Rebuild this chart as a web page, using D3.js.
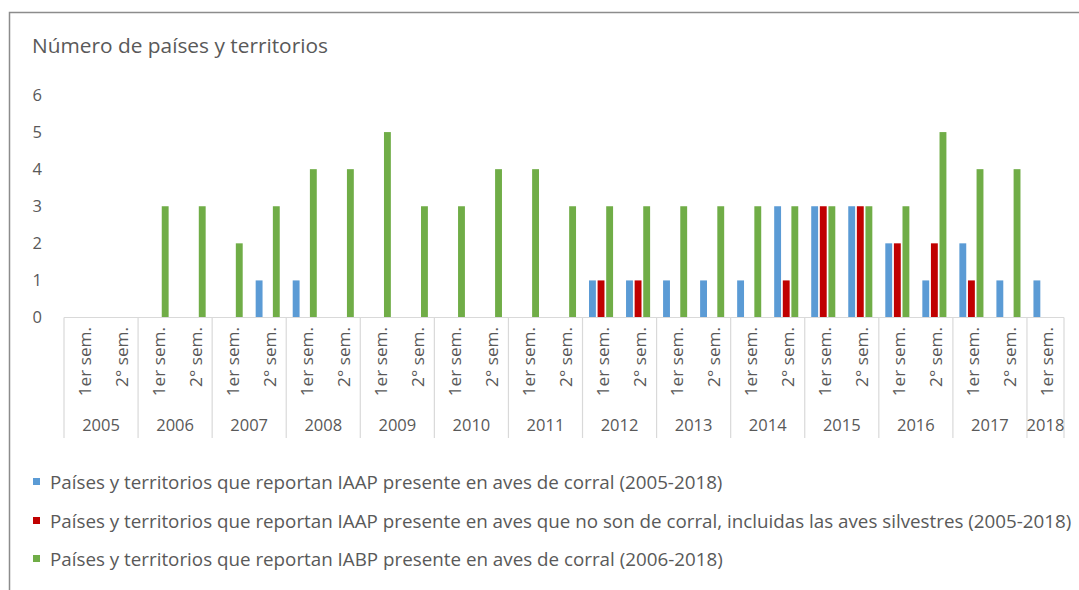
<!DOCTYPE html>
<html>
<head>
<meta charset="utf-8">
<script src="https://cdn.jsdelivr.net/npm/d3@7"></script>
<style>
  html, body { margin: 0; padding: 0; background: #fff; overflow: hidden; }
  svg text { font-family: "Open Sans", Lato, sans-serif; fill: #595959; }
</style>
</head>
<body>
<svg id="chart" width="1079" height="590"></svg>
<script>
'use strict';

// 期間 (年・半期)
const categoryYear = ['2005', '2005', '2006', '2006', '2007', '2007', '2008', '2008', '2009', '2009',
    '2010', '2010', '2011', '2011', '2012', '2012', '2013', '2013', '2014', '2014',
    '2015', '2015', '2016', '2016', '2017', '2017', '2018'];
const categorySem = ['1er sem.', '2° sem.', '1er sem.', '2° sem.', '1er sem.', '2° sem.', '1er sem.', '2° sem.',
    '1er sem.', '2° sem.', '1er sem.', '2° sem.', '1er sem.', '2° sem.', '1er sem.', '2° sem.',
    '1er sem.', '2° sem.', '1er sem.', '2° sem.', '1er sem.', '2° sem.', '1er sem.', '2° sem.',
    '1er sem.', '2° sem.', '1er sem.'];

// 系列の値
const iaapPoultry = [0, 0, 0, 0, 0, 1, 1, 0, 0, 0, 0, 0, 0, 0, 1, 1, 1, 1, 1, 3, 3, 3, 2, 1, 2, 1, 1];
const iaapWild = [0, 0, 0, 0, 0, 0, 0, 0, 0, 0, 0, 0, 0, 0, 1, 1, 0, 0, 0, 1, 3, 3, 2, 2, 1, 0, 0];
const iabpPoultry = [0, 0, 3, 3, 2, 3, 4, 4, 5, 3, 3, 4, 4, 3, 3, 3, 3, 3, 3, 3, 3, 3, 3, 5, 4, 4, 0];

const seriesNames = [
    'Países y territorios que reportan IAAP presente en aves de corral (2005-2018)',
    'Países y territorios que reportan IAAP presente en aves que no son de corral, incluidas las aves silvestres (2005-2018)',
    'Países y territorios que reportan IABP presente en aves de corral (2006-2018)'
];
const seriesColors = ['#5b9bd5', '#c00000', '#70ad47'];
const yTicks = [0, 1, 2, 3, 4, 5, 6];

const plot = { left: 64, right: 1064, top: 95, bottom: 317.5 };

const svg = d3.select('#chart');

// テキスト幅を目標値に合わせてフォントサイズを決める
const fitFont = (sel, base, target) => {
    sel.attr('font-size', base + 'px');
    const w = sel.node().getComputedTextLength();
    sel.attr('font-size', (base * target / w).toFixed(2) + 'px');
};

// 外枠
svg.append('rect')
    .attr('x', 9.5).attr('y', 12.5)
    .attr('width', 1100).attr('height', 600)
    .attr('fill', 'none')
    .attr('stroke', '#8c8c8c')
    .attr('stroke-width', 1.5);

// タイトル
const title = svg.append('text')
    .attr('x', 32).attr('y', 53)
    .text('Número de países y territorios');
fitFont(title, 20, 296);

// スケール
const idx = d3.range(categoryYear.length);
const x0 = d3.scaleBand()
    .domain(idx)
    .range([plot.left, plot.right])
    .paddingInner(0.35)
    .paddingOuter(0.175);
const x1 = d3.scaleBand()
    .domain([0, 1, 2])
    .range([0, x0.bandwidth()])
    .paddingInner(0.2);
const y = d3.scaleLinear().domain([0, 6]).range([plot.bottom, plot.top]);

// Y軸 (線なし、ラベルのみ)
const yAxis = d3.axisLeft(y).tickValues(yTicks).tickFormat(d3.format('d')).tickSize(0).tickPadding(0);
svg.append('g')
    .attr('transform', 'translate(42,0)')
    .call(yAxis)
    .call(g => g.select('.domain').remove())
    .call(g => g.selectAll('text')
        .attr('font-size', '16.5px')
        .attr('font-family', '"Open Sans", sans-serif')
        .attr('fill', '#595959'));

// 棒
const seriesData = [iaapPoultry, iaapWild, iabpPoultry];
seriesData.forEach((values, s) => {
    svg.append('g')
        .selectAll('rect')
        .data(values.map((v, i) => ({ i, v })).filter(d => d.v > 0))
        .enter()
        .append('rect')
        .attr('x', d => x0(d.i) + x1(s))
        .attr('width', x1.bandwidth())
        .attr('y', d => y(d.v))
        .attr('height', d => y(0) - y(d.v))
        .attr('fill', seriesColors[s]);
});

// X軸 (2段ラベル)
const step = x0.step();
const axisG = svg.append('g');
axisG.append('line')
    .attr('x1', plot.left).attr('x2', plot.right)
    .attr('y1', y(0)).attr('y2', y(0))
    .attr('stroke', '#d9d9d9').attr('stroke-width', 1.2);

// 半期ラベル (回転)
axisG.selectAll('.sem')
    .data(idx)
    .enter()
    .append('text')
    .attr('class', 'sem')
    .attr('font-size', '17.2px')
    .attr('text-anchor', 'end')
    .attr('dominant-baseline', 'central')
    .attr('transform', i => `translate(${plot.left + step * (i + 0.5) + 1.5},327) rotate(-90)`)
    .text(i => categorySem[i]);

// 年ごとのグループ
const years = Array.from(new Set(categoryYear));
const yearGroups = years.map(yr => {
    const members = idx.filter(i => categoryYear[i] === yr);
    return { year: yr, start: d3.min(members), end: d3.max(members) + 1 };
});
const boundaries = [0].concat(yearGroups.map(g => g.end));
axisG.selectAll('.sep')
    .data(boundaries)
    .enter()
    .append('line')
    .attr('x1', b => plot.left + step * b)
    .attr('x2', b => plot.left + step * b)
    .attr('y1', y(0)).attr('y2', 438)
    .attr('stroke', '#d9d9d9').attr('stroke-width', 1.2);
axisG.selectAll('.year')
    .data(yearGroups)
    .enter()
    .append('text')
    .attr('class', 'year')
    .attr('font-size', '16.5px')
    .attr('text-anchor', 'middle')
    .attr('x', g => plot.left + step * (g.start + g.end) / 2)
    .attr('y', 431)
    .text(g => g.year);

// 凡例
const legend = svg.append('g');
const legendY = [482, 521, 559];
const legendTexts = seriesNames.map((name, s) => {
    legend.append('rect')
        .attr('x', 33).attr('y', legendY[s] - 4)
        .attr('width', 7).attr('height', 7)
        .attr('fill', seriesColors[s]);
    return legend.append('text')
        .attr('x', 50).attr('y', legendY[s])
        .attr('dominant-baseline', 'central')
        .text(name);
});
fitFont(legendTexts[0], 17, 673);
const legendSize = legendTexts[0].attr('font-size');
legendTexts.forEach(t => t.attr('font-size', legendSize));
</script>
</body>
</html>
